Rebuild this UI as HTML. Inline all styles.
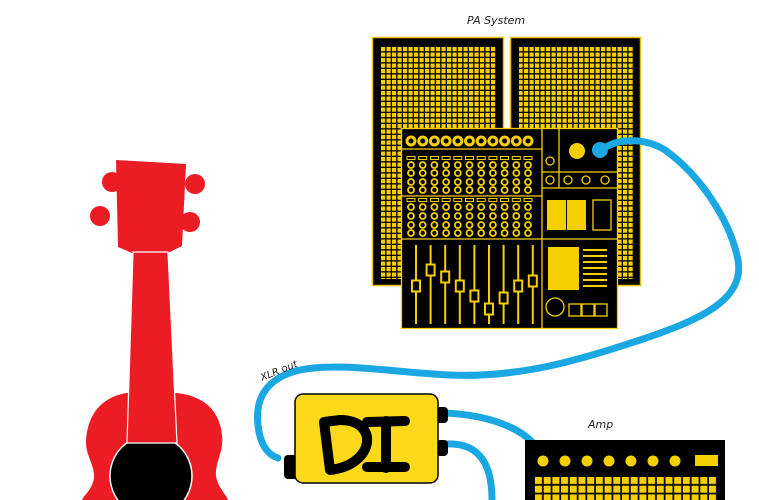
<!DOCTYPE html>
<html><head><meta charset="utf-8"><style>
html,body{margin:0;padding:0;background:#fff;}
svg{display:block;}
text{font-family:"DejaVu Sans","Liberation Sans",sans-serif;font-style:italic;fill:#222;}
</style></head><body>
<svg width="759" height="500" viewBox="0 0 759 500" xmlns="http://www.w3.org/2000/svg">
<defs>
<pattern id="spk" x="381" y="47" width="5.5" height="5.5" patternUnits="userSpaceOnUse"><rect width="4.2" height="4.2" fill="#f5d000"/></pattern>
<pattern id="amp" x="535" y="477" width="8.7" height="8.7" patternUnits="userSpaceOnUse"><rect width="7" height="7" fill="#f5d000"/></pattern>
</defs>
<text x="467" y="24" font-size="11">PA System</text>
<rect x="372.5" y="37.5" width="131" height="248" fill="#000" stroke="#e8c200" stroke-width="1.5"/>
<rect x="381" y="47" width="115" height="232" fill="url(#spk)"/>
<rect x="510.5" y="37.5" width="130" height="248" fill="#000" stroke="#e8c200" stroke-width="1.5"/>
<rect x="519" y="47" width="114" height="232" fill="url(#spk)"/>
<g stroke="#f5d000" fill="none" stroke-width="1.3">
<rect x="401.5" y="128.5" width="216" height="200" fill="#000"/>
<line x1="542" y1="129" x2="542" y2="328"/>
<line x1="402" y1="149" x2="542" y2="149"/>
<line x1="402" y1="196" x2="542" y2="196"/>
<line x1="402" y1="239" x2="617" y2="239"/>
<line x1="559" y1="129" x2="559" y2="188"/>
<line x1="542" y1="172" x2="617" y2="172"/>
<line x1="542" y1="188" x2="617" y2="188"/>
</g>
<g id="mix" stroke="#f5d000" fill="none"></g>
<g fill="#f5d000">
<circle cx="577" cy="151" r="8"/>
<rect x="547" y="200" width="19" height="30"/><rect x="567" y="200" width="19" height="30"/>
<rect x="548" y="247" width="31" height="43"/>
</g>
<g stroke="#f5d000" fill="none" stroke-width="1.3">
<rect x="593" y="200" width="18" height="30"/>
<circle cx="555" cy="307" r="9"/>
<rect x="569" y="304" width="12" height="12"/><rect x="582" y="304" width="12" height="12"/><rect x="595" y="304" width="12" height="12"/>
<circle cx="550" cy="161" r="4"/><circle cx="550" cy="180" r="4"/><circle cx="568" cy="180" r="4"/><circle cx="586" cy="180" r="4"/><circle cx="605" cy="180" r="4"/>
</g>
<g stroke="#f5d000" stroke-width="2">
<line x1="583" y1="250" x2="607" y2="250"/><line x1="583" y1="256" x2="607" y2="256"/><line x1="583" y1="262" x2="607" y2="262"/><line x1="583" y1="268" x2="607" y2="268"/><line x1="583" y1="274" x2="607" y2="274"/><line x1="583" y1="280" x2="607" y2="280"/><line x1="583" y1="286" x2="607" y2="286"/>
</g>
<!-- ukulele -->
<path d="M126 393 C100 398 88 415 86 440 C85 455 95 465 94 478 C92 490 84 495 82 500 L228 500 C226 494 218 488 216 476 C215 462 224 452 222 435 C220 412 205 396 177 393 Z" fill="#ec1c24"/>
<circle cx="151" cy="476" r="41" fill="#000" stroke="#fff" stroke-width="1.5"/>
<circle cx="112" cy="182" r="10" fill="#ec1c24"/><circle cx="100" cy="216" r="10" fill="#ec1c24"/>
<circle cx="195" cy="184" r="10" fill="#ec1c24"/><circle cx="190" cy="222" r="10" fill="#ec1c24"/>
<path d="M116 160 L186 164 L182 246 L168 253 L132 253 L118 247 Z" fill="#ec1c24"/>
<path d="M133 252 L168 252 L177 443 L127 443 Z" fill="#ec1c24" stroke="#fff" stroke-width="1.2"/>
<g fill="none" stroke="#1ba8e2" stroke-width="7" stroke-linecap="round">
<path d="M600 152 C610 140 640 135 665 150 C700 175 730 220 738 260 C745 300 700 320 640 340 C580 360 520 378 450 375 C390 372 340 362 300 370 C265 378 255 400 258 425 C260 445 268 455 278 458"/>
<path d="M445 413 C490 415 535 430 542 460"/>
<path d="M445 444 C480 442 492 465 492 500"/>
</g>
<circle cx="600" cy="150" r="8" fill="#1ba8e2"/>
<text x="262" y="381" font-size="10" transform="rotate(-22 262 381)">XLR out</text>
<rect x="284" y="455" width="14" height="24" rx="4" fill="#000"/>
<rect x="436" y="407" width="12" height="16" rx="4" fill="#000"/>
<rect x="436" y="440" width="12" height="16" rx="4" fill="#000"/>
<rect x="295" y="394" width="143" height="89" rx="8" fill="#fed91a" stroke="#000" stroke-width="1.5"/>
<path d="M324 422 L330 470 C375 465 380 420 340 420 Z" fill="none" stroke="#000" stroke-width="10" stroke-linejoin="round"/>
<path d="M367 422 L405 421 M386 421 L386 468 M367 467 L405 467" stroke="#000" stroke-width="10" stroke-linecap="round"/>
<text x="588" y="428" font-size="11">Amp</text>
<rect x="525" y="440" width="200" height="60" fill="#000"/>
<rect x="535" y="477" width="182" height="23" fill="url(#amp)"/>
<g fill="#f5d000"><circle cx="543" cy="461" r="5.5"/><circle cx="565" cy="461" r="5.5"/><circle cx="587" cy="461" r="5.5"/><circle cx="609" cy="461" r="5.5"/><circle cx="631" cy="461" r="5.5"/><circle cx="653" cy="461" r="5.5"/><circle cx="675" cy="461" r="5.5"/><rect x="695" y="455" width="23" height="11"/></g>
</svg>
<script>
(function(){
var g=document.getElementById('mix'),h='';
for(var i=0;i<11;i++){var x=411+i*11.7;
 h+='<circle cx="'+x+'" cy="141" r="4" stroke-width="3"/>';
 h+='<rect x="'+(x-4)+'" y="156.5" width="8" height="3" stroke-width="1"/>';
 h+='<rect x="'+(x-4)+'" y="198.5" width="8" height="3" stroke-width="1"/>';
 [165,173,182,190,207,216,225,233].forEach(function(y){h+='<circle cx="'+x+'" cy="'+y+'" r="3" stroke-width="1.8"/>';});
}
var hy=[286,270,277,286,296,309,298,286,281];
for(var j=0;j<9;j++){var fx=416+j*14.6;
 h+='<line x1="'+fx+'" y1="245" x2="'+fx+'" y2="324" stroke-width="2"/>';
 h+='<rect x="'+(fx-4)+'" y="'+(hy[j]-5.5)+'" width="8" height="11" fill="#000" stroke-width="2"/>';}
g.innerHTML=h;
})();
</script>
</body></html>
